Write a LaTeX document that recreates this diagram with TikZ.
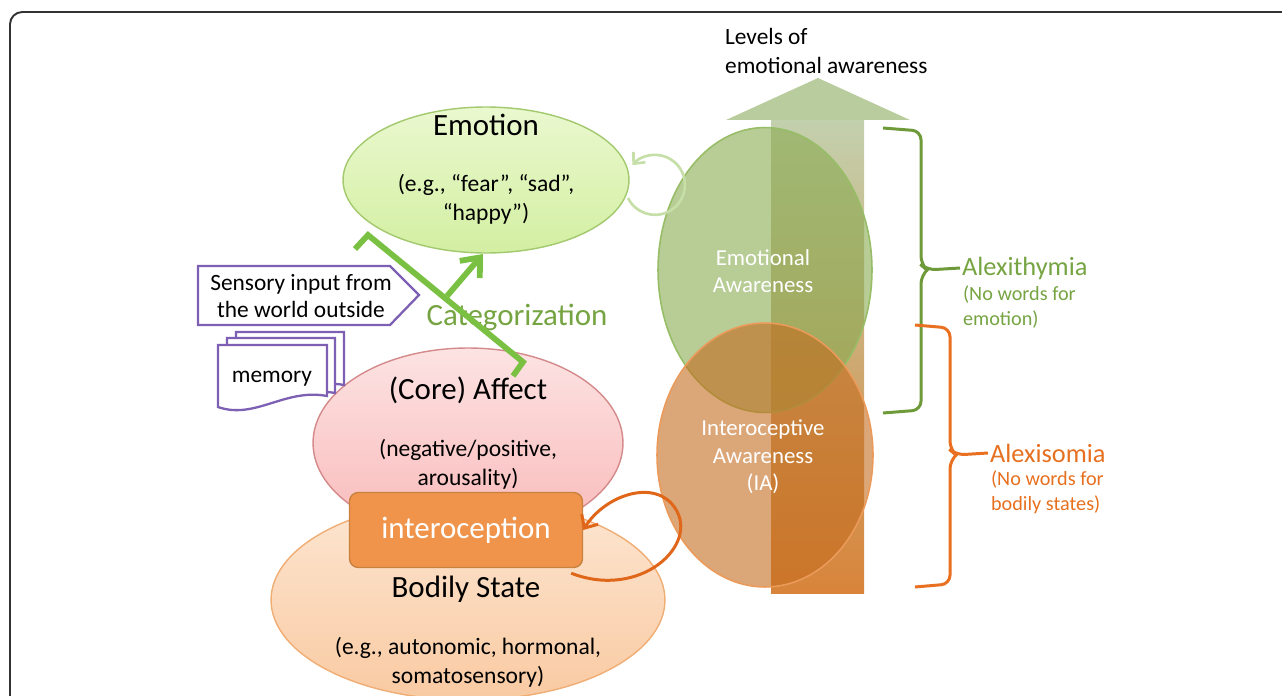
\documentclass[tikz,border=0pt]{standalone}
\usepackage{fontspec}
\setmainfont{Carlito}
\usetikzlibrary{arrows.meta,shapes.geometric,calc}
\definecolor{emoTop}{HTML}{EAF8CF}
\definecolor{emoBot}{HTML}{D3EFA2}
\definecolor{emoLine}{HTML}{A3C96E}
\definecolor{affTop}{HTML}{FDE3E3}
\definecolor{affBot}{HTML}{F9B9B9}
\definecolor{affLine}{HTML}{D48A8A}
\definecolor{bodTop}{HTML}{FDE6D2}
\definecolor{bodBot}{HTML}{F9CAA2}
\definecolor{bodLine}{HTML}{F0AD74}
\definecolor{intFill}{HTML}{F0944C}
\definecolor{intLine}{HTML}{C9823E}
\definecolor{purp}{HTML}{7D60B4}
\definecolor{catGreen}{HTML}{7AC143}
\definecolor{txtGreen}{HTML}{76A442}
\definecolor{brGreen}{HTML}{6E9A3A}
\definecolor{txtOrange}{HTML}{E6701F}
\definecolor{brOrange}{HTML}{E87020}
\definecolor{loopOrange}{HTML}{E0661A}
\definecolor{loopGreen}{HTML}{C6DFA8}
\definecolor{eaFill}{HTML}{88AA50}
\definecolor{eaLine}{HTML}{97BD66}
\definecolor{iaFill}{HTML}{C46C1E}
\definecolor{iaLine}{HTML}{EB9A5A}
\definecolor{headGreen}{HTML}{B9CC9E}
\definecolor{shaftTop}{HTML}{C3D0AD}
\definecolor{shaftMid}{HTML}{B8A772}
\definecolor{shaftBot}{HTML}{D8843A}
\tikzset{
  oval/.style={ellipse, inner sep=0pt},
  title/.style={font=\fontsize{17.6}{21}\selectfont, align=center},
  sub/.style={font=\fontsize{13.4}{16.4}\selectfont, align=center},
  white text/.style={font=\fontsize{13}{15.6}\selectfont, align=center, text=white},
  docshape/.style={draw=purp, line width=1.3pt, fill=white},
  brace/.style={line width=1.7pt, rounded corners=5pt},
}
\begin{document}
\begin{tikzpicture}[x=0.02cm,y=-0.02cm]
\useasboundingbox (0,0) rectangle (1282,696);
\begin{scope}
\clip (0,0) rectangle (1282,696);
\draw[line width=1.1pt, draw=black!80, rounded corners=7pt] (10,12) rectangle (1330,760);
\end{scope}

% big arrow
\shade[top color=shaftTop, middle color=shaftMid, bottom color=shaftBot] (771,120) rectangle (864,593);
\fill[headGreen] (726,120) -- (818,78) -- (910,120) -- cycle;
\node[anchor=west, inner sep=1pt, font=\fontsize{13.3}{16}\selectfont, align=left] (levels) at (723,51) {Levels of\\emotional awareness};

% awareness ellipses
\node[oval, minimum width=4.28cm, minimum height=5.7cm, fill=eaFill, fill opacity=0.6, draw=eaLine, line width=0.9pt] (ea) at (765,270) {};
\node[oval, minimum width=4.32cm, minimum height=5.28cm, fill=iaFill, fill opacity=0.6, draw=iaLine, line width=0.9pt] (ia) at (765,455) {};
\node[white text] (eatext) at (763,271) {Emotional\\Awareness};
\node[white text] (iatext) at (763,457) {Interoceptive\\Awareness\\(IA)};

% emotion
\node[oval, minimum width=5.72cm, minimum height=2.92cm, top color=emoTop, bottom color=emoBot, draw=emoLine, line width=0.8pt] (emo) at (486,180) {};
\node[title] (emot) at (486,125) {Emotion};
\node[sub] (emos) at (486,199) {(e.g., “fear”, “sad”,\\“happy”)};

% green self loop
\draw[loopGreen, line width=1.5pt, -{Straight Barb[length=5pt,width=9pt]}] (628,198) arc[start angle=154, end angle=-139, radius=30];

% brackets
\node[anchor=west, inner sep=1pt, text=txtGreen, font=\fontsize{15}{18}\selectfont] (alexi) at (960,268) {Alexithymia};
\node[anchor=north west, inner sep=1pt, text=txtGreen, font=\fontsize{11.5}{13.8}\selectfont, align=left] (alexis) at (961,284) {(No words for\\emotion)};
\node[anchor=west, inner sep=1pt, text=txtOrange, font=\fontsize{15}{18}\selectfont] (somia) at (988,453) {Alexisomia};
\node[anchor=north west, inner sep=1pt, text=txtOrange, font=\fontsize{11.5}{13.8}\selectfont, align=left] (somias) at (989,469) {(No words for\\bodily states)};
\draw[brace, brGreen] (883,128) -- (921,131) -- (921,265) -- (927,270) -- (alexi.west);
\draw[brace, brGreen] (927,270) -- (921,275) -- (921,410) -- (883,413);
\draw[brace, brOrange] (915,325) -- (950,328) -- (950,450) -- (956,455) -- (somia.west);
\draw[brace, brOrange] (956,455) -- (950,460) -- (950,584) -- (915,587);

% bodily state and affect
\node[oval, minimum width=7.88cm, minimum height=4.0cm, top color=bodTop, bottom color=bodBot, draw=bodLine, line width=0.8pt] (body) at (468,600) {};
\node[oval, minimum width=6.2cm, minimum height=3.8cm, top color=affTop, bottom color=affBot, draw=affLine, line width=0.8pt] (affect) at (468,443) {};
\node[title] (afft) at (468,390) {(Core) Affect};
\node[sub] (affs) at (468,464) {(negative/positive,\\arousality)};
\node[title] (bodt) at (466,589) {Bodily State};
\node[sub] (bods) at (468,662) {(e.g., autonomic, hormonal,\\somatosensory)};
\node[rectangle, rounded corners=5pt, minimum width=4.66cm, minimum height=1.5cm, fill=intFill, draw=intLine, line width=0.8pt, text=white, font=\fontsize{17.6}{21}\selectfont] (intero) at (466,530) {interoception};

% orange loop
\coordinate (ls) at ($(intero.south east)+(-12,5)$);
\draw[loopOrange, line width=1.7pt, -{Straight Barb[length=6pt,width=11pt]}] (ls) .. controls (640,600) and (700,545) .. (675,508) .. controls (655,478) and (605,495) .. (intero.east);

% sensory input
\draw[purp, line width=1.3pt, fill=white] (198,266) -- (390,266) -- (419,295) -- (390,325) -- (198,325) -- cycle;
\node[sub, font=\fontsize{13.3}{15.5}\selectfont] (sens) at (301,296) {Sensory input from\\the world outside};

% memory
\draw[docshape] (236,332) -- (344,332) -- (344,385) .. controls (320,380) and (300,395) .. (236,390) -- cycle;
\draw[docshape] (227,338) -- (335,338) -- (335,393) .. controls (310,388) and (290,402) .. (227,398) -- cycle;
\draw[docshape] (218,345) -- (327,345) -- (327,396) .. controls (285,388) and (255,420) .. (218,407) -- cycle;
\node[font=\fontsize{13.3}{15}\selectfont] (mem) at (272,379) {memory};

% categorization
\node[text=txtGreen, font=\fontsize{17.6}{21}\selectfont] (cat) at (517,317) {Categorization};
\coordinate (c1) at (355,249);
\coordinate (c2) at (368,235);
\coordinate (c3) at (523,362);
\coordinate (c4) at (513,376);
\coordinate (cb) at (447,296);
\coordinate (ct) at (483,254);
\draw[catGreen, line width=3.3pt, line join=miter] (c1) -- (c2) -- (c3) -- (c4);
\draw[catGreen, line width=3.3pt, -{Straight Barb[length=9pt,width=15pt]}] (cb) -- (ct);
\end{tikzpicture}
\end{document}
